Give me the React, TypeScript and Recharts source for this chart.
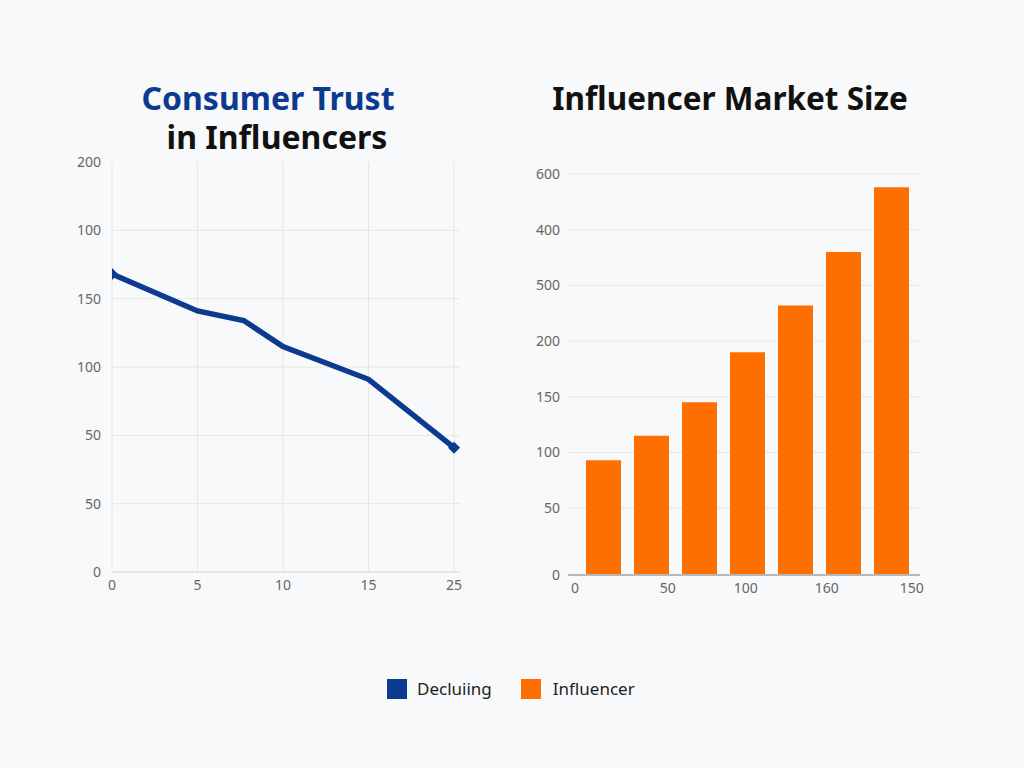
import React from 'react';
import {
  LineChart,
  Line,
  BarChart,
  Bar,
  XAxis,
  YAxis,
  CartesianGrid,
} from 'recharts';

// left chart: consumer trust
const trustX = [0, 5, 7.7, 10, 15, 20];
const trustY = [218, 191, 184, 165, 141, 91];
const trustXTicks = [0, 5, 10, 15, 20];
const trustXLabels = ['0', '5', '10', '15', '25'];
const trustYTicks = [0, 50, 100, 150, 200, 250, 300];
const trustYLabels = ['0', '50', '50', '100', '150', '100', '200'];

// right chart: market size
const marketCats = ['1', '2', '3', '4', '5', '6', '7'];
const marketValues = [103, 125, 155, 200, 242, 290, 348];
const marketYTicks = [0, 60, 110, 160, 210, 260, 310, 360];
const marketYLabels = ['0', '50', '100', '150', '200', '500', '400', '600'];
const marketXTicks = [0.12, 1.7, 3.03, 4.41, 5.86];
const marketXLabels = ['0', '50', '100', '160', '150'];

const BLUE = '#0b3a8e';
const ORANGE = '#ff6f00';
const FONT = '"Noto Sans", "Open Sans", sans-serif';

const trustData = trustX.map((x, i) => ({ x, y: trustY[i] }));
const marketData = marketCats.map((c, i) => ({ cat: c, value: marketValues[i] }));

const tickStyle = { fill: '#666', fontSize: 14, fontFamily: FONT };

const Diamond = (props: any) => {
  const { cx, cy, index } = props;
  if (index !== 0 && index !== trustData.length - 1) return <g key={`d${index}`} />;
  const s = 6;
  return (
    <path
      key={`d${index}`}
      d={`M${cx},${cy - s}L${cx + s},${cy}L${cx},${cy + s}L${cx - s},${cy}Z`}
      fill={BLUE}
    />
  );
};

const titleStyle: React.CSSProperties = {
  position: 'absolute',
  fontFamily: FONT,
  fontWeight: 700,
  fontSize: 32,
  lineHeight: '32px',
  textAlign: 'center',
  width: 400,
  whiteSpace: 'nowrap',
};

export default function App() {
  return (
    <div
      style={{
        position: 'absolute',
        left: 0,
        top: 0,
        width: 1024,
        height: 768,
        background: '#f8f9fa',
        overflow: 'hidden',
      }}
    >
      <div style={{ ...titleStyle, left: 68, top: 82, color: BLUE }}>Consumer Trust</div>
      <div style={{ ...titleStyle, left: 77, top: 121, color: '#111' }}>in Influencers</div>
      <div style={{ ...titleStyle, left: 530, top: 82, color: '#111', fontSize: 31.5 }}>
        Influencer Market Size
      </div>

      <div style={{ position: 'absolute', left: 40, top: 150 }}>
        <LineChart
          width={440}
          height={460}
          data={trustData}
          margin={{ top: 12, right: 20, bottom: 8, left: 0 }}
        >
          <CartesianGrid
            stroke="#e6e6e6"
            verticalValues={trustXTicks}
            horizontalValues={trustYTicks.slice(0, -1)}
          />
          <XAxis
            dataKey="x"
            type="number"
            domain={[0, 20.35]}
            ticks={trustXTicks}
            tickFormatter={(v: number) => trustXLabels[trustXTicks.indexOf(v)]}
            tick={tickStyle}
            tickLine={false}
            axisLine={{ stroke: '#e0e0e0' }}
            height={30}
            allowDataOverflow
          />
          <YAxis
            type="number"
            domain={[0, 300]}
            ticks={trustYTicks}
            tickFormatter={(v: number) => trustYLabels[trustYTicks.indexOf(v)]}
            tick={tickStyle}
            tickLine={false}
            axisLine={false}
            tickMargin={5}
            width={72}
          />
          <Line
            dataKey="y"
            type="linear"
            stroke={BLUE}
            strokeWidth={5.5}
            dot={Diamond}
            activeDot={false}
            isAnimationActive={false}
          />
        </LineChart>
      </div>

      <div style={{ position: 'absolute', left: 490, top: 150 }}>
        <BarChart
          width={450}
          height={460}
          data={marketData}
          margin={{ top: 24, right: 20, bottom: 5, left: 0 }}
        >
          <CartesianGrid stroke="#e6e6e6" vertical={false} />
          <XAxis dataKey="cat" hide height={0} padding={{ left: 11, right: 5 }} />
          <XAxis
            xAxisId="lbl"
            type="number"
            domain={[0, 6]}
            ticks={marketXTicks}
            tickFormatter={(v: number) => marketXLabels[marketXTicks.indexOf(v)]}
            tick={tickStyle}
            tickLine={false}
            axisLine={{ stroke: '#b8b8b8', strokeWidth: 2 }}
            height={30}
            allowDataOverflow
          />
          <YAxis
            type="number"
            domain={[0, 360]}
            ticks={marketYTicks}
            tickFormatter={(v: number) => marketYLabels[marketYTicks.indexOf(v)]}
            tick={tickStyle}
            tickLine={false}
            axisLine={false}
            width={78}
          />
          <Bar dataKey="value" fill={ORANGE} barSize={35} isAnimationActive={false} />
        </BarChart>
      </div>

      <div
        style={{
          position: 'absolute',
          top: 677,
          left: 387,
          display: 'flex',
          alignItems: 'center',
          fontFamily: FONT,
          fontSize: 17,
          color: '#222',
        }}
      >
        <span style={{ width: 20, height: 20, background: BLUE, display: 'inline-block' }} />
        <span style={{ marginLeft: 10 }}>Decluiing</span>
        <span style={{ width: 20, height: 20, background: ORANGE, display: 'inline-block', marginLeft: 29 }} />
        <span style={{ marginLeft: 12 }}>Influencer</span>
      </div>
    </div>
  );
}
